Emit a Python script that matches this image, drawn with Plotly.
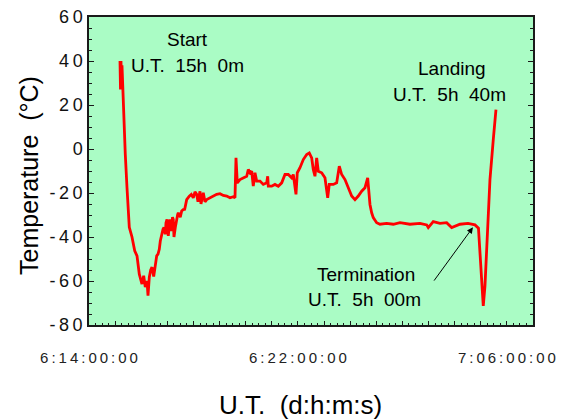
import plotly.graph_objects as go

# Time in hours counted from day 6, 00:00 U.T.
time_h = [15.187, 15.206, 15.225, 15.244, 15.263, 15.283, 15.328, 15.390, 15.455, 15.543,
          15.646, 15.750, 15.838, 15.926, 16.029, 16.094, 16.155, 16.221, 16.259, 16.309,
          16.362, 16.412, 16.477, 16.538, 16.592, 16.642, 16.691, 16.730, 16.783, 16.833,
          16.871, 16.921, 16.948, 16.986, 17.036, 17.101, 17.166, 17.197, 17.227, 17.254,
          17.304, 17.358, 17.396, 17.419, 17.495, 17.549, 17.610, 17.664, 17.740, 17.840,
          17.917, 17.993, 18.058, 18.123, 18.173, 18.250, 18.288, 18.376, 18.441, 18.506,
          18.632, 18.759, 18.889, 19.015, 19.142, 19.272, 19.398, 19.524, 19.590, 19.628,
          19.678, 19.781, 19.907, 20.038, 20.099, 20.164, 20.229, 20.290, 20.355, 20.420,
          20.547, 20.673, 20.803, 20.842, 20.865, 20.995, 21.121, 21.247, 21.378, 21.504,
          21.630, 21.760, 21.822, 21.925, 21.975, 22.078, 22.205, 22.335, 22.434, 22.526,
          22.587, 22.652, 22.717, 22.779, 22.909, 23.035, 23.139, 23.200, 23.353, 23.483,
          23.583, 23.675, 23.801, 23.927, 24.057, 24.184, 24.310, 24.440, 24.567, 24.670,
          24.758, 24.823, 24.884, 25.014, 25.141, 25.397, 25.650, 25.907, 26.289, 26.672,
          26.929, 26.990, 27.181, 27.438, 27.694, 27.886, 28.204, 28.510, 28.778, 28.912,
          29.096, 29.161, 29.249, 29.352, 29.479, 29.582]

temp_c = [40.0, 27.0, 40.0, 29.0, 38.0, 30.0, 20.0, -2.5, -17.6, -35.6,
          -40.0, -46.3, -48.6, -56.9, -61.4, -57.6, -62.8, -59.9, -66.7, -58.3,
          -55.0, -53.7, -58.0, -52.4, -48.6, -47.8, -45.6, -41.8, -38.0, -36.5,
          -35.7, -38.8, -33.5, -32.0, -39.5, -32.0, -37.3, -31.0, -32.0, -40.0,
          -35.7, -31.2, -29.7, -29.0, -31.0, -28.2, -27.5, -27.4, -23.0, -21.4,
          -20.6, -22.2, -19.5, -20.6, -24.0, -19.2, -25.0, -19.9, -24.0, -23.0,
          -22.2, -21.4, -20.6, -20.3, -21.1, -21.4, -22.2, -21.7, -22.2, -4.0,
          -15.4, -13.9, -13.1, -12.4, -9.3, -10.8, -10.1, -16.9, -10.8, -14.6,
          -14.6, -16.1, -15.4, -12.4, -16.9, -16.9, -16.1, -16.9, -15.4, -11.6,
          -11.6, -13.1, -11.6, -20.6, -10.8, -8.5, -4.8, -2.5, -1.8, -4.0,
          -9.3, -12.4, -4.0, -10.1, -10.8, -13.1, -22.2, -16.1, -16.1, -15.4,
          -7.8, -11.6, -13.9, -17.6, -21.4, -23.0, -21.4, -19.2, -17.6, -13.1,
          -25.2, -29.0, -31.2, -33.5, -34.2, -33.8, -34.2, -33.5, -34.2, -33.8,
          -34.5, -35.7, -33.0, -33.8, -33.5, -35.7, -34.2, -33.8, -34.5, -36.0,
          -71.3, -62.2, -39.5, -13.9, 4.3, 17.9]

x_tick_vals = [14, 22, 30]
x_tick_labels = ["6:14:00:00", "6:22:00:00", "7:06:00:00"]
y_tick_vals = [-80, -60, -40, -20, 0, 20, 40, 60]

FONT = "Liberation Sans, Arial, sans-serif"
BG = "#AAFCC5"
AXC = "#1a1a1a"

# plot area in pixels (for placing paper-referenced titles)
L, R, T, B = 89, 533, 17, 325
W_PA, H_PA = R - L, B - T


def spaced(s, sep="\u2009"):
    return sep.join(list(s))


hour_vals = list(range(14, 32))
hour_text = [spaced(x_tick_labels[x_tick_vals.index(h)]) if h in x_tick_vals else "" for h in hour_vals]

fig = go.Figure()
fig.add_trace(go.Scatter(x=time_h, y=temp_c, mode="lines",
                         line=dict(color="#FF0000", width=2.8), showlegend=False))

fig.update_layout(
    width=569, height=420,
    margin=dict(l=L, r=569 - R, t=T, b=420 - B, autoexpand=False),
    paper_bgcolor="white", plot_bgcolor=BG,
    font=dict(family=FONT, color="black"),
)

fig.update_xaxes(
    range=[14, 31], showgrid=False, zeroline=False,
    showline=True, linecolor=AXC, linewidth=1.5, mirror=True,
    ticks="inside", ticklen=4, tickwidth=1, tickcolor=AXC,
    tickvals=hour_vals, ticktext=hour_text,
    tickfont=dict(size=15, family=FONT, color="#222"),
    ticklabelstandoff=18,
    minor=dict(dtick=0.25, tick0=14, ticks="inside", ticklen=2, tickcolor=AXC, showgrid=False),
)
fig.update_yaxes(
    range=[-80, 60], showgrid=False, zeroline=False,
    showline=True, linecolor=AXC, linewidth=1.5, mirror="ticks",
    ticks="inside", ticklen=5, tickwidth=1, tickcolor=AXC,
    tickvals=y_tick_vals, ticktext=[spaced(str(v)) for v in y_tick_vals],
    tickfont=dict(size=18, family=FONT, color="#111"),
    ticklabelstandoff=1,
    minor=dict(dtick=5, tick0=0, ticks="inside", ticklen=3, tickcolor=AXC, showgrid=False),
)

NB = "\u00a0"
ann_font = dict(size=19, family=FONT, color="black")
texts = [
    (17.79, 49.6, "Start"),
    (17.79, 37.8, "U.T." + NB + " 15h" + NB + " 0m"),
    (27.90, 36.4, "Landing"),
    (27.82, 24.7, "U.T." + NB + " 5h" + NB + " 40m"),
    (24.60, -56.9, "Termination"),
    (24.53, -68.2, "U.T." + NB + " 5h" + NB + " 00m"),
]
for x, y, t in texts:
    fig.add_annotation(x=x, y=y, xref="x", yref="y", text=t, showarrow=False,
                       font=ann_font, xanchor="center", yanchor="middle")

# arrow to termination point
fig.add_annotation(x=28.70, y=-35.6, ax=27.17, ay=-60.5, xref="x", yref="y",
                   axref="x", ayref="y", text="", showarrow=True,
                   arrowhead=2, arrowsize=1.2, arrowwidth=1, arrowcolor="black")

# axis titles
fig.add_annotation(x=(29 - L) / W_PA, y=(B - 176) / H_PA, xref="paper", yref="paper",
                   text="Temperature" + NB + " (°C)", textangle=-90, showarrow=False,
                   font=dict(size=25, family=FONT, color="black"),
                   xanchor="center", yanchor="middle")
fig.add_annotation(x=(300 - L) / W_PA, y=(B - 405) / H_PA, xref="paper", yref="paper",
                   text="U.T." + NB + " (d:h:m:s)", showarrow=False,
                   font=dict(size=26, family=FONT, color="black"),
                   xanchor="center", yanchor="middle")

fig.write_html("out.html")
